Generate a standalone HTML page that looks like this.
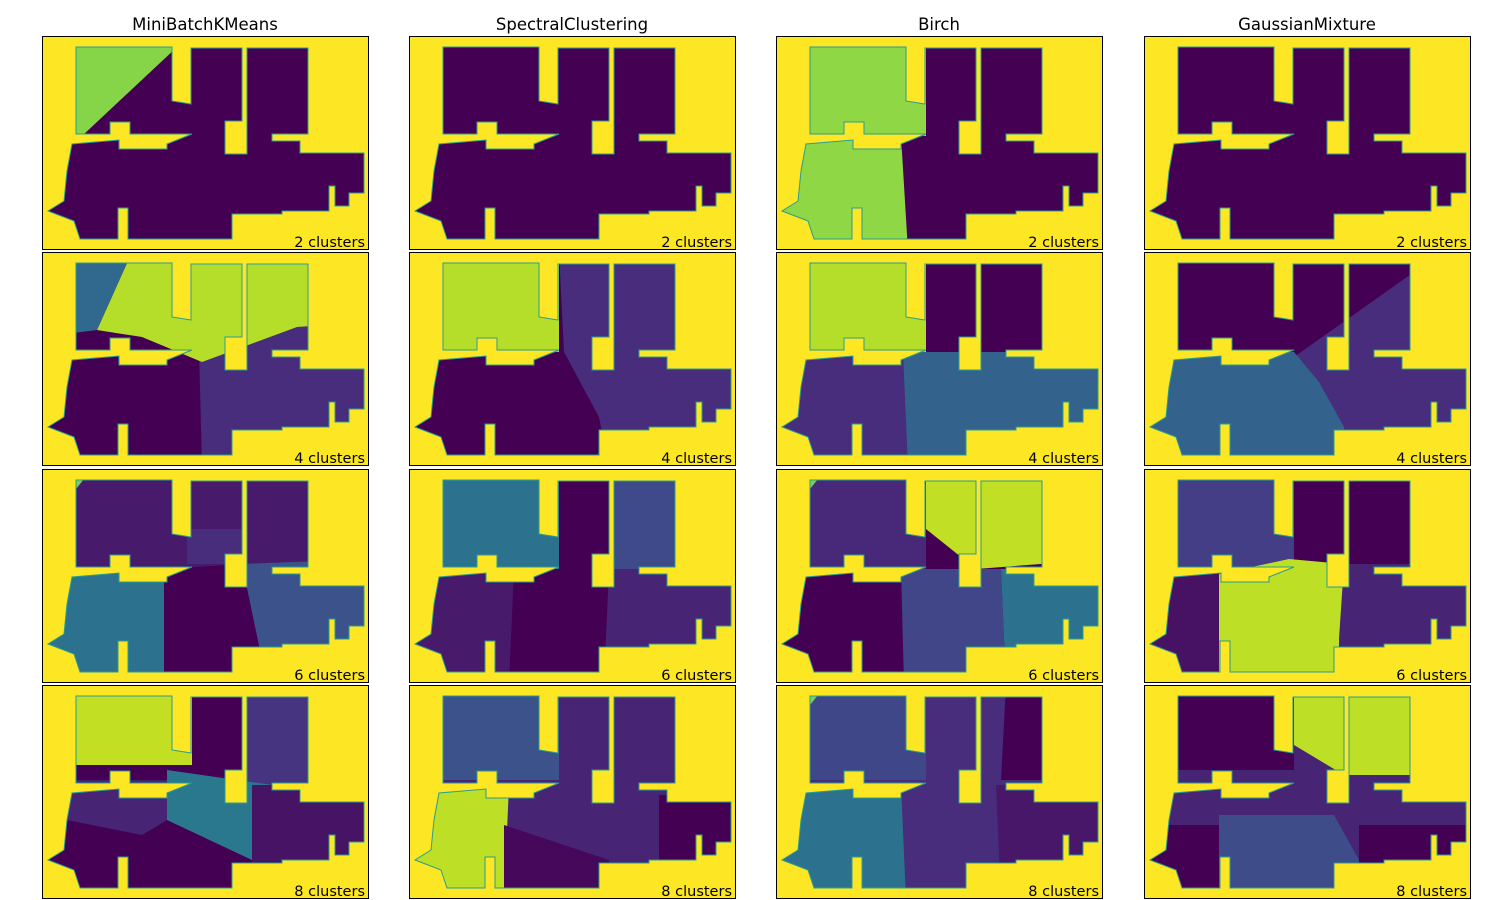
<!DOCTYPE html>
<html><head><meta charset="utf-8"><style>
body{margin:0;background:#fff;font-family:"DejaVu Sans","Liberation Sans",sans-serif}
svg{display:block}
</style></head><body>
<svg id="fig" width="1512" height="900">
<defs>
<clipPath id="shape"><path id="shp" d="M34,11 L130,11 L130,65 L149,68 L149,12 L200,12 L200,85 L183,85 L183,118 L205,118 L205,12 L266,12 L266,98 L230,98 L230,105 L258,105 L258,117 L322,117 L322,157 L307,157 L307,170 L293,170 L293,150 L287,150 L287,175 L240,175 L240,178 L190,178 L190,203 L86,203 L86,172 L76,172 L76,203 L38,203 L32,185 L6,175 L22,165 L25,135 L30,108 L77,104 L77,113 L125,113 L125,108 L150,98 L88,98 L88,86 L68,86 L68,98 L34,98 Z"/></clipPath>
</defs>
</svg>
<script>
const algorithms=["MiniBatchKMeans","SpectralClustering","Birch","GaussianMixture"];
const clusterCounts=[2,4,6,8];
const colX=[42,409,776,1144];
const rowY=[36,252,469,685];
const regions=[
 [["#440154",[["#86d549","34,11 135,11 40,100 34,100"]]],
  ["#440154",[]],
  ["#440154",[["#8fd744","0,0 150,0 150,100 125,100 132,215 0,215"]]],
  ["#440154",[]]],
 [["#440154",[["#472d7b","157,95 330,60 330,215 160,215"],["#b5de2b","90,0 330,0 330,70 255,75 160,110 100,85 55,78"],["#31688e","0,0 90,0 55,78 0,85"]]],
  ["#440154",[["#472d7b","150,0 330,0 330,215 200,215 190,165 155,100"],["#b5de2b","0,0 150,0 150,100 0,100"]]],
  ["#440154",[["#33638d","0,100 330,100 330,215 0,215"],["#472d7b","0,100 127,100 132,215 0,215"],["#b5de2b","0,0 150,0 150,100 0,100"]]],
  ["#440154",[["#472d7b","150,105 270,20 330,20 330,215 205,215 200,175"],["#33638d","0,100 150,100 175,130 200,175 205,215 0,215"]]]],
 [["#481a6c",[["#472d7b","145,60 200,60 200,95 145,95"],["#2c728e","0,100 122,100 122,215 0,215"],["#440154","122,100 200,95 225,175 225,215 122,215"],["#3b528b","200,95 330,90 330,215 225,215"],["#7ad151","0,0 50,0 34,20"]]],
  ["#440154",[["#2c728e","0,0 150,0 150,100 0,100"],["#3e4a89","200,0 330,0 330,100 200,100"],["#481a6c","0,100 105,100 100,215 0,215"],["#482475","200,100 330,100 330,215 195,215"]]],
  ["#440154",[["#482878","0,0 150,0 150,100 0,100"],["#7ad151","0,0 50,0 34,20"],["#c0df25","150,0 330,0 330,90 200,100 150,60"],["#404688","125,100 225,100 230,215 128,215"],["#2c728e","225,100 330,100 330,215 230,215"]]],
  ["#440154",[["#433e85","0,0 150,0 150,100 0,100"],["#471164","0,100 75,100 75,215 0,215"],["#bddf26","75,105 145,90 200,95 200,175 195,215 75,215"],["#482475","200,95 330,95 330,215 195,215 195,170"]]]],
 [["#440154",[["#c2df23","0,0 150,0 150,80 0,80"],["#463480","205,0 330,0 330,100 205,100"],["#482475","0,95 125,95 125,135 100,150 0,130"],["#2a788e","125,85 230,100 210,175 125,135"],["#471365","210,100 330,100 330,215 205,215 210,175"]]],
  ["#482475",[["#3b528b","0,0 150,0 150,95 0,95"],["#bddf26","0,100 100,100 95,215 0,215"],["#45085b","95,140 200,175 200,215 95,215"],["#440154","250,110 330,110 330,215 250,215"]]],
  ["#472d7b",[["#3f4788","0,0 150,0 150,95 0,95"],["#7ad151","0,0 50,0 34,20"],["#440154","230,0 330,0 330,95 225,95"],["#2c728e","0,100 125,100 130,215 0,215"],["#481769","220,100 330,100 330,215 225,215"]]],
  ["#482475",[["#440154","0,0 150,0 150,85 0,85"],["#bddf26","150,0 330,0 330,90 200,90 150,60"],["#440154","0,140 75,140 75,215 0,215"],["#3e4c8a","75,130 190,130 215,175 215,215 75,215"],["#440154","215,140 330,140 330,215 215,215"]]]]
];
const NS="http://www.w3.org/2000/svg";
const fig=document.getElementById('fig');
const shapeD=document.getElementById('shp').getAttribute('d');
function mk(t,a){const e=document.createElementNS(NS,t);for(const k in a)e.setAttribute(k,a[k]);return e;}
algorithms.forEach((a,c)=>{
  const t=mk('text',{x:colX[c]+163,y:30,'text-anchor':'middle','font-size':'16.5','fill':'#000'});
  t.textContent=a;
  
  
  fig.appendChild(t);
});
clusterCounts.forEach((n,r)=>{
  algorithms.forEach((a,c)=>{
    const g=mk('g',{transform:`translate(${colX[c]},${rowY[r]})`});
    
    
    g.appendChild(mk('rect',{x:0,y:0,width:327,height:214,fill:'#fde725'}));
    const inner=mk('g',{'clip-path':'url(#shape)'});
    const [base,polys]=regions[r][c];
    inner.appendChild(mk('rect',{x:0,y:0,width:330,height:215,fill:base}));
    polys.forEach(p=>{const pg=mk('polygon',{points:p[1],fill:p[0]});
      
      
      inner.appendChild(pg);});
    g.appendChild(inner);
    g.appendChild(mk('path',{d:shapeD,fill:'none',stroke:'#2a9d8f','stroke-width':'1'}));
    g.appendChild(mk('rect',{x:0.5,y:0.5,width:326,height:213,fill:'none',stroke:'#000','stroke-width':'1'}));
    const lb=mk('text',{x:323,y:211,'text-anchor':'end','font-size':'14.5',fill:'#000'});
    lb.textContent=n+' clusters';
    
    
    g.appendChild(lb);
    fig.appendChild(g);
  });
});
</script>
</body></html>
